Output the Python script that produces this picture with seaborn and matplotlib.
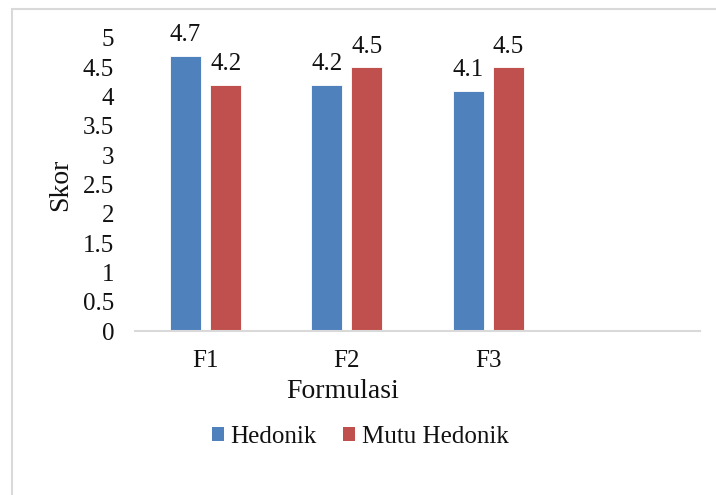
import matplotlib
matplotlib.use("Agg")
import matplotlib.pyplot as plt
from matplotlib.lines import Line2D
from matplotlib.patches import Patch
import seaborn as sns
import pandas as pd

# Scores per formulation
formulasi = ["F1", "F2", "F3"]
hedonik = [4.7, 4.2, 4.1]
mutu_hedonik = [4.2, 4.5, 4.5]
series_names = ["Hedonik", "Mutu Hedonik"]
y_ticks = [0, 0.5, 1, 1.5, 2, 2.5, 3, 3.5, 4, 4.5, 5]

colors = ["#4F81BD", "#C0504D"]

df = pd.DataFrame({
    "Formulasi": formulasi * 2,
    "Skor": hedonik + mutu_hedonik,
    "Seri": [series_names[0]] * len(formulasi) + [series_names[1]] * len(formulasi),
})

sns.set_theme(style="white")
plt.rcParams["font.family"] = ["Liberation Serif", "DejaVu Serif"]

W, H = 716, 495
fig = plt.figure(figsize=(W / 100, H / 100), dpi=100)
ax = fig.add_axes([135 / W, 1 - 331 / H, 565 / W, 293 / H])

sns.barplot(data=df, x="Formulasi", y="Skor", hue="Seri", order=formulasi,
            hue_order=series_names, palette=colors, width=0.567, gap=0.225,
            edgecolor="white", linewidth=0.6, saturation=1, ax=ax, legend=False)

for container in ax.containers:
    ax.bar_label(container, fmt="%.1f", padding=7, fontsize=18, color="#111111")

ax.set_xlim(-0.5, 3.5)
ax.set_ylim(0, 5)
ax.set_yticks(y_ticks)
ax.set_yticklabels([f"{v:g}" for v in y_ticks])
ax.tick_params(axis="both", length=0, labelsize=18, colors="#111111")
ax.tick_params(axis="x", pad=14)
ax.tick_params(axis="y", pad=15)

for side in ["left", "right", "top"]:
    ax.spines[side].set_visible(False)
ax.spines["bottom"].set_color("#D9D9D9")
ax.spines["bottom"].set_linewidth(1.5)

ax.set_ylabel("Skor", fontsize=20, color="#111111")
ax.yaxis.set_label_coords((73 - 135) / 565, 0.5)
ax.set_xlabel("Formulasi", fontsize=20, color="#111111")
ax.xaxis.set_label_coords((343 - 135) / 565, (331 - 379) / 293)

handles = [Patch(facecolor=c, edgecolor="none") for c in colors]
fig.legend(handles, series_names, loc="center", bbox_to_anchor=(360 / W, 1 - 437 / H),
           ncol=2, frameon=False, fontsize=18, handlelength=0.5, handleheight=0.5,
           handletextpad=0.25, columnspacing=1.05, labelcolor="#111111")

# outer chart frame (left and top edges)
fig.add_artist(Line2D([12 / W, 12 / W], [0, 1 - 9 / H], transform=fig.transFigure,
                      color="#D9D9D9", linewidth=1.5))
fig.add_artist(Line2D([12 / W, 1], [1 - 9 / H, 1 - 9 / H], transform=fig.transFigure,
                      color="#D9D9D9", linewidth=1.5))

fig.savefig("out.png", dpi=100, facecolor="white")
